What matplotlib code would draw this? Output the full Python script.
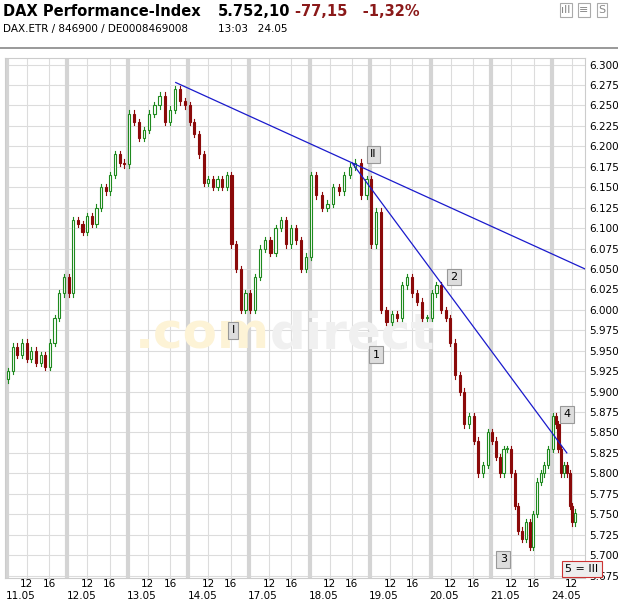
import matplotlib
matplotlib.use("Agg")
import matplotlib.pyplot as plt
from matplotlib.patches import Rectangle

days = ["11.05", "12.05", "13.05", "14.05", "17.05", "18.05", "19.05", "20.05", "21.05", "24.05"]
closes = [
    [5.925, 5.955, 5.945, 5.960, 5.940, 5.950, 5.935, 5.945, 5.930, 5.960, 5.990, 6.020, 6.040],
    [6.020, 6.110, 6.105, 6.095, 6.115, 6.105, 6.125, 6.150, 6.145, 6.165, 6.190, 6.180, 6.178],
    [6.240, 6.230, 6.210, 6.220, 6.240, 6.250, 6.262, 6.230, 6.245, 6.270, 6.255, 6.250],
    [6.230, 6.215, 6.190, 6.155, 6.160, 6.150, 6.160, 6.150, 6.165, 6.080, 6.050, 6.000, 6.020],
    [6.000, 6.040, 6.075, 6.085, 6.070, 6.100, 6.110, 6.080, 6.100, 6.085, 6.050, 6.065],
    [6.165, 6.140, 6.125, 6.130, 6.150, 6.145, 6.165, 6.175, 6.180, 6.140, 6.160],
    [6.080, 6.120, 6.000, 5.985, 5.995, 5.990, 6.030, 6.040, 6.020, 6.010, 5.990, 5.990],
    [6.020, 6.030, 6.000, 5.990, 5.960, 5.920, 5.900, 5.860, 5.870, 5.840, 5.800, 5.810, 5.850],
    [5.840, 5.820, 5.800, 5.830, 5.830, 5.800, 5.760, 5.730, 5.720, 5.740, 5.710, 5.750, 5.790, 5.800, 5.810, 5.830],
    [5.870, 5.860, 5.830, 5.800, 5.810, 5.800, 5.760, 5.740, 5.752],
]
day_span = [0.95] * 9 + [0.38]
yticks = [5.675 + 0.025 * i for i in range(26)]
trend1 = ([2.79, 9.55], [6.278, 6.050])
trend2 = ([5.70, 9.25], [6.180, 5.825])
labels = [("I", 3.74, 5.975), ("II", 6.05, 6.190), ("1", 6.10, 5.945), ("2", 7.38, 6.040),
          ("3", 8.20, 5.695), ("4", 9.25, 5.872)]

fig = plt.figure(figsize=(6.18, 6.03), dpi=100)
ax = fig.add_axes([5/618, 25/603, 580/618, 520/603])
ax.set_xlim(-0.03, 9.55)
ax.set_ylim(5.672, 6.308)

for y in yticks:
    ax.axhline(y, color="#dcdcdc", lw=0.8, zorder=0)
for i in range(len(days)):
    ax.axvline(i, color="#d4d4d4", lw=3, zorder=0)
    for f in (0.33, 0.70):
        if i + f < 9.55:
            ax.axvline(i + f, color="#dcdcdc", lw=0.8, zorder=0)

ax.text(4.35, 5.97, ".com", fontsize=36, color="#fdf3d6", ha="right", va="center", weight="bold", zorder=1)
ax.text(4.35, 5.97, "direct", fontsize=36, color="#f0f0f0", ha="left", va="center", weight="bold", zorder=1)

prev = closes[0][0] - 0.01
w = 0.035
for d, cl in enumerate(closes):
    n = len(cl)
    for k, c in enumerate(cl):
        x = d + 0.02 + day_span[d] * k / max(n - 1, 1) * 0.97
        o = prev
        hi, lo = max(o, c) + 0.004, min(o, c) - 0.004
        up = c >= o
        col = "#1f8a1f" if up else "#8b0a0a"
        ax.plot([x, x], [lo, hi], color=col, lw=0.8, zorder=2)
        ax.add_patch(Rectangle((x - w/2, min(o, c)), w, max(abs(c - o), 0.001),
                               facecolor="white" if up else col, edgecolor=col, lw=0.8, zorder=3))
        prev = c

ax.plot(*trend1, color="#1a1acc", lw=0.9, zorder=4)
ax.plot(*trend2, color="#1a1acc", lw=0.9, zorder=4)
for t, x, y in labels:
    ax.text(x, y, t, fontsize=8, ha="center", va="center", zorder=5,
            bbox=dict(boxstyle="square,pad=0.3", fc="#dddddd", ec="#999999", lw=0.8))
ax.text(9.50, 5.683, "5 = III", fontsize=8, ha="center", va="center", zorder=5,
        bbox=dict(boxstyle="square,pad=0.3", fc="#eeeeee", ec="#cc3333", lw=0.8))

ax.yaxis.tick_right()
ax.set_yticks(yticks)
ax.set_yticklabels([f"{v:.3f}" for v in yticks], fontsize=7.5)
ax.tick_params(axis="y", length=0, pad=3)
ax.set_xticks([])
for s in ax.spines.values():
    s.set_color("#cccccc")
for i, dname in enumerate(days):
    for f, t in ((0.33, "12"), (0.70, "16")):
        if i + f < 9.55:
            ax.text(i + f, 5.6646, t, fontsize=7.5, ha="center", va="center", clip_on=False)
    ax.text(i + 0.23, 5.6505, dname, fontsize=7.5, ha="center", va="center", clip_on=False)

fig.text(3/618, 1 - 12/603, "DAX Performance-Index", fontsize=10.5, weight="bold", va="center")
fig.text(3/618, 1 - 29/603, "DAX.ETR / 846900 / DE0008469008", fontsize=7.5, va="center")
fig.text(218/618, 1 - 12/603, "5.752,10", fontsize=10.5, weight="bold", va="center")
fig.text(295/618, 1 - 12/603, "-77,15   -1,32%", fontsize=10.5, weight="bold", color="#8b1a1a", va="center")
fig.text(218/618, 1 - 29/603, "13:03   24.05", fontsize=7.5, va="center")
fig.add_artist(plt.Line2D([0, 1], [1 - 48/603] * 2, color="#888888", lw=1.2))
for j, g in enumerate(["ıll", "≡", "S"]):
    fig.text((566 + j*18)/618, 1 - 10/603, g, fontsize=8, color="#888888", ha="center", va="center",
             bbox=dict(boxstyle="square,pad=0.15", fc="white", ec="#aaaaaa", lw=0.8))

fig.savefig("out.png", dpi=100)
